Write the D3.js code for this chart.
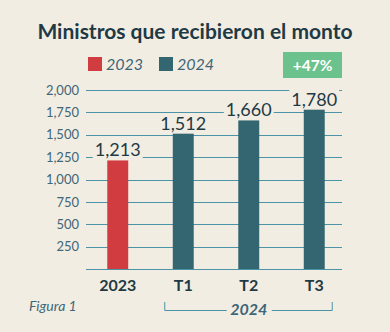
<!DOCTYPE html>
<html><head><meta charset="utf-8">
<script src="https://cdn.jsdelivr.net/npm/d3@7"></script>
<style>
html,body{margin:0;padding:0;background:#f2ede3;}
svg{display:block;}
text{font-family:Lato,"Open Sans",sans-serif;}
</style></head>
<body>
<svg id="c" width="390" height="332"></svg>
<script>
const categories = ["2023", "T1", "T2", "T3"];
const values = [1213, 1512, 1660, 1780];
const series = ["2023", "2024", "2024", "2024"];
const legendLabels = ["2023", "2024"];
const yTicks = [250, 500, 750, 1000, 1250, 1500, 1750, 2000];
const title = "Ministros que recibieron el monto";
const change = "+47%";
const groupLabel = "2024";
const figLabel = "Figura 1";

const colors = {"2023": "#d13c40", "2024": "#346672"};
const bg = "#f2ede3", grid = "#4b93a6", dark = "#1f3a44", axisTxt = "#3e6676";

const svg = d3.select("#c");
svg.append("rect").attr("width",390).attr("height",332).attr("fill",bg);

svg.append("text").attr("x",195).attr("y",39).attr("text-anchor","middle")
  .attr("font-size",21).attr("font-weight",700).attr("fill",dark).text(title);

// legend
const leg = svg.append("g");
legendLabels.forEach((l,i)=>{
  const x0 = 88 + i*71;
  leg.append("rect").attr("x",x0).attr("y",57).attr("width",14).attr("height",14).attr("fill",colors[l]);
  leg.append("text").attr("x",x0+18).attr("y",70).attr("font-size",16).attr("font-style","italic")
    .attr("fill",axisTxt).text(l);
});
svg.append("rect").attr("x",283).attr("y",52).attr("width",59).attr("height",26).attr("fill","#6cc28c");
svg.append("text").attr("x",312.5).attr("y",71).attr("text-anchor","middle").attr("font-size",15.5)
  .attr("font-weight",700).attr("fill","#fff").text(change);

const x = d3.scaleBand().domain(categories).range([85,347]).paddingInner(0.68).paddingOuter(0.34);
const y = d3.scaleLinear().domain([0,2000]).range([269,90]);

// y axis labels
const yAxis = d3.axisLeft(y).tickValues(yTicks).tickSize(0).tickPadding(0).tickFormat(d3.format(","));
const ga = svg.append("g").attr("transform","translate(79,0)").call(yAxis);
ga.select(".domain").remove();
ga.selectAll("text").attr("font-size",13).attr("fill",axisTxt).attr("font-family","Lato,sans-serif");

// gridlines
svg.append("g").selectAll("line").data([0].concat(yTicks)).join("line")
  .attr("x1",86).attr("x2",342).attr("y1",d=>Math.round(y(d))+0.5).attr("y2",d=>Math.round(y(d))+0.5)
  .attr("stroke",grid).attr("stroke-width",1);

// bars
svg.append("g").selectAll("rect").data(categories).join("rect")
  .attr("x",d=>x(d)).attr("width",x.bandwidth())
  .attr("y",(d,i)=>y(values[i])).attr("height",(d,i)=>y(0)-y(values[i]))
  .attr("fill",(d,i)=>colors[series[i]]);

// value labels with knockout
const vl = svg.append("g");
categories.forEach((c,i)=>{
  const cx = x(c)+x.bandwidth()/2;
  const t = vl.append("text").attr("x",cx).attr("y",y(values[i])-4).attr("text-anchor","middle")
    .attr("font-size",18).attr("fill",dark).text(d3.format(",")(values[i]));
  const bb = t.node().getBBox();
  vl.insert("rect","text").attr("x",bb.x-2).attr("y",bb.y+2).attr("width",bb.width+4).attr("height",bb.height-4).attr("fill",bg);
});

// x labels
const xAxis = d3.axisBottom(x).tickSize(0).tickPadding(0);
const gx = svg.append("g").attr("transform","translate(0,291)").call(xAxis);
gx.select(".domain").remove();
gx.selectAll("text").attr("dy",0).attr("font-size",16).attr("font-weight",700).attr("fill",dark)
  .attr("font-family","Lato,sans-serif");

// bracket
const bx1 = x("T1")+x.bandwidth()/2-18.5, bx2 = x("T3")+x.bandwidth()/2+18, bmid = x("T2")+x.bandwidth()/2;
const bp = d3.path();
bp.moveTo(bx1,302); bp.lineTo(bx1,310.5); bp.lineTo(bmid-22,310.5);
bp.moveTo(bmid+23,310.5); bp.lineTo(bx2,310.5); bp.lineTo(bx2,302);
svg.append("path").attr("d",bp.toString()).attr("fill","none").attr("stroke",grid).attr("stroke-width",1);
svg.append("text").attr("x",bmid).attr("y",315).attr("text-anchor","middle").attr("font-size",16)
  .attr("font-weight",700).attr("font-style","italic").attr("fill",axisTxt).text(groupLabel);

svg.append("text").attr("x",29).attr("y",311).attr("font-size",14).attr("font-style","italic")
  .attr("fill",axisTxt).text(figLabel);
</script>
</body></html>
